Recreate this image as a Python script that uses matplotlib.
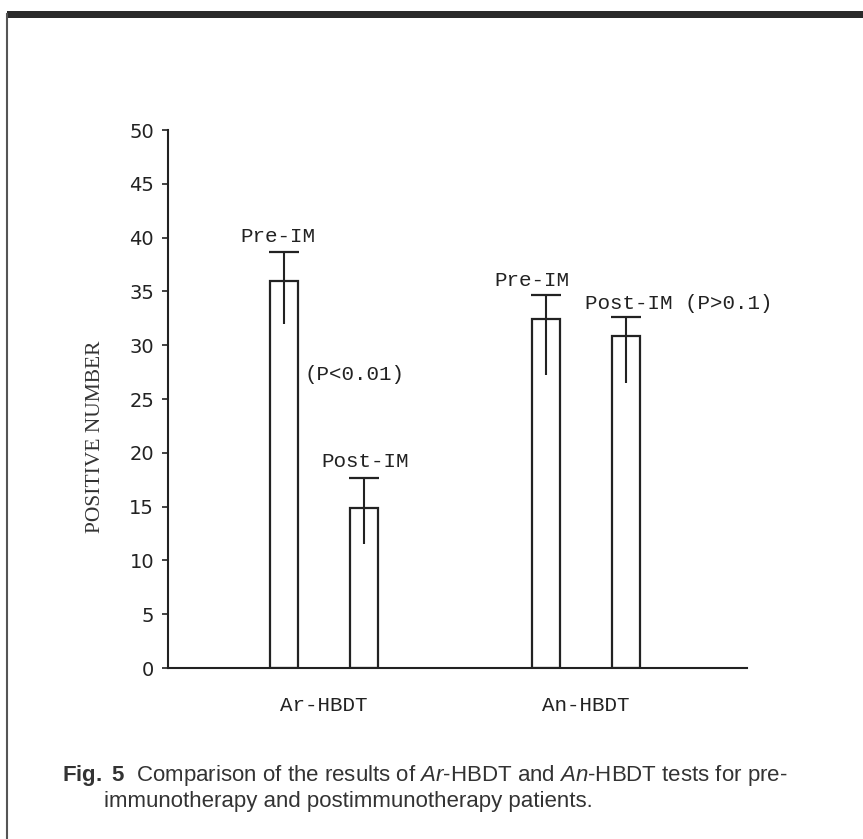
import matplotlib.pyplot as plt
import numpy as np

# values
groups = ["Ar-HBDT", "An-HBDT"]
pre_vals = [36.0, 32.4]
post_vals = [14.9, 30.9]
pre_err_low = [4.0, 5.2]
pre_err_up = [2.7, 2.3]
post_err_low = [3.4, 4.4]
post_err_up = [2.8, 1.7]
y_ticks = [0, 5, 10, 15, 20, 25, 30, 35, 40, 45, 50]

plt.rcParams['mathtext.fontset'] = 'custom'
plt.rcParams['mathtext.rm'] = 'Liberation Sans'
plt.rcParams['mathtext.it'] = 'Liberation Sans:italic'
plt.rcParams['mathtext.bf'] = 'Liberation Sans:bold'

ink = "#222222"
mono = "Liberation Mono"
fs = 15

fig = plt.figure(figsize=(8.63, 8.39), dpi=100)
ax = fig.add_axes([0.1947, 0.2038, 0.6709, 0.6412])

x = np.arange(len(groups))
off = 0.152
w = 0.107

def draw_bars(xpos, vals, lo, up):
    ax.bar(xpos, vals, width=w, facecolor="white", edgecolor=ink, linewidth=1.6)
    vals = np.array(vals)
    ax.vlines(xpos, vals - np.array(lo), vals + np.array(up), color=ink, linewidth=1.5)
    ax.plot(xpos, vals + np.array(up), linestyle="none", marker="_",
            markersize=22, markeredgewidth=1.6, color=ink)

draw_bars(x - off, pre_vals, pre_err_low, pre_err_up)
draw_bars(x + off, post_vals, post_err_low, post_err_up)

# labels above the bars
pre_top = np.array(pre_vals) + np.array(pre_err_up)
post_top = np.array(post_vals) + np.array(post_err_up)
ax.text(x[0] - off - 0.024, pre_top[0] + 1.4, "Pre-IM", family=mono, fontsize=fs,
        ha="center", va="center", color=ink)
ax.text(x[0] + off + 0.004, post_top[0] + 1.5, "Post-IM", family=mono, fontsize=fs,
        ha="center", va="center", color=ink)
ax.text(x[1] - off - 0.054, pre_top[1] + 1.3, "Pre-IM", family=mono, fontsize=fs,
        ha="center", va="center", color=ink)
ax.text(x[1] + off - 0.156, post_top[1] + 1.3, "Post-IM (P>0.1)", family=mono, fontsize=fs,
        ha="left", va="center", color=ink)
ax.text(-0.073, 27.3, "(P<0.01)", family=mono, fontsize=fs,
        ha="left", va="center", color=ink)

ax.set_xlim(-0.595, 1.614)
ax.set_ylim(0, 50)
ax.set_yticks(y_ticks)
ax.set_xticks(x)
ax.set_xticklabels(groups, family=mono, fontsize=fs, color=ink)
ax.tick_params(axis="x", length=0, pad=20)
ax.tick_params(axis="y", length=4, width=1.2, direction="out", pad=6,
               labelsize=14, colors=ink)
for lab in ax.get_yticklabels():
    lab.set_family("DejaVu Sans")

for s in ["top", "right"]:
    ax.spines[s].set_visible(False)
for s in ["left", "bottom"]:
    ax.spines[s].set_linewidth(1.5)
    ax.spines[s].set_color(ink)

ax.set_ylabel("POSITIVE NUMBER", family="Liberation Serif", fontsize=15.5,
              color="#333333")
ax.yaxis.set_label_coords(-0.108, 0.43)

# page frame: thick top rule and left border
fig.add_artist(plt.Rectangle((0.008, 1 - 18 / 839), 0.992, 7 / 839,
                             transform=fig.transFigure, color="#2a2a2a", lw=0))
fig.add_artist(plt.Line2D([0.0085, 0.0085], [0, 1 - 14 / 839],
                          transform=fig.transFigure, color="#555555", lw=1.5))

# caption
fig.text(62 / 863, 1 - 776 / 839,
         r"$\mathbf{Fig.\ 5}$  Comparison of the results of $\mathit{Ar}$-HBDT and "
         r"$\mathit{An}$-HBDT tests for pre-",
         fontsize=16, family="Liberation Sans", va="center", ha="left", color="#333333")
fig.text(104 / 863, 1 - 801 / 839, "immunotherapy and postimmunotherapy patients.",
         fontsize=16, family="Liberation Sans", va="center", ha="left", color="#333333")

fig.savefig("out.png", dpi=100)
